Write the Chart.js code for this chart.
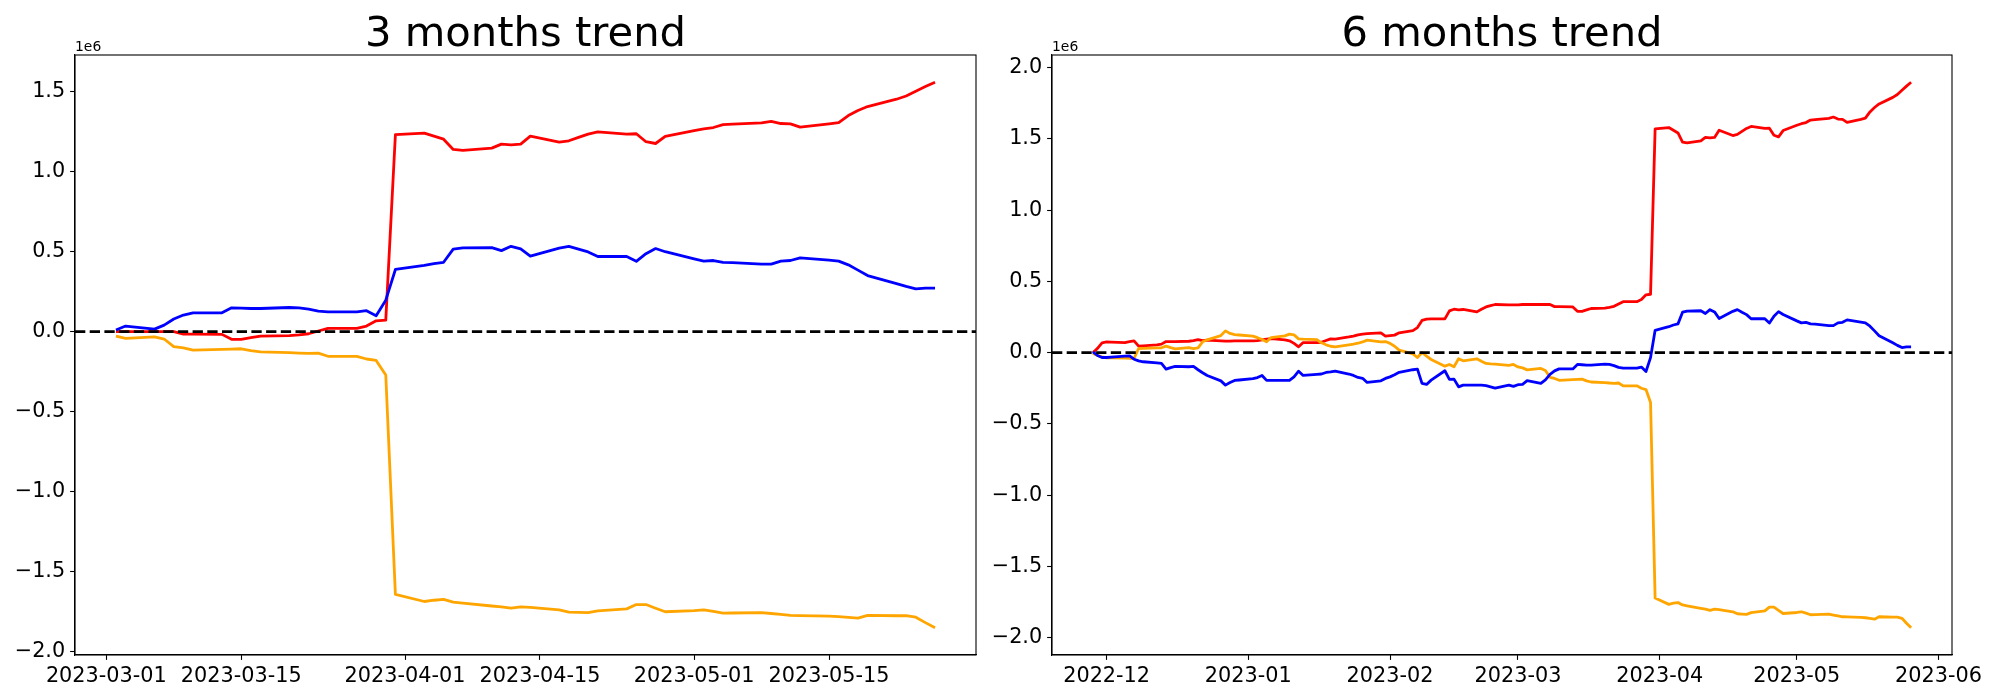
<!DOCTYPE html>
<html>
<head>
<meta charset="utf-8">
<script src="https://cdn.jsdelivr.net/npm/chart.js@4.4.0/dist/chart.umd.min.js"></script>
<style>
  body { margin: 0; background: #fff; }
  #left { position: absolute; left: 0; top: 0; width: 980px; height: 700px; }
  #right { position: absolute; left: 980px; top: 0; width: 1020px; height: 700px; }
</style>
</head>
<body>
<div id="left"><canvas id="chart3m"></canvas></div>
<div id="right"><canvas id="chart6m"></canvas></div>
<script>
// 3 months (business days)
const dates3m = [
  "2023-03-02", "2023-03-03", "2023-03-06", "2023-03-07", "2023-03-08", "2023-03-09", "2023-03-10",
  "2023-03-13", "2023-03-14", "2023-03-15", "2023-03-16", "2023-03-17", "2023-03-20", "2023-03-21",
  "2023-03-22", "2023-03-23", "2023-03-24", "2023-03-27", "2023-03-28", "2023-03-29", "2023-03-30",
  "2023-03-31", "2023-04-03", "2023-04-04", "2023-04-05", "2023-04-06", "2023-04-07", "2023-04-10",
  "2023-04-11", "2023-04-12", "2023-04-13", "2023-04-14", "2023-04-17", "2023-04-18", "2023-04-19",
  "2023-04-20", "2023-04-21", "2023-04-24", "2023-04-25", "2023-04-26", "2023-04-27", "2023-04-28",
  "2023-05-01", "2023-05-02", "2023-05-03", "2023-05-04", "2023-05-05", "2023-05-08", "2023-05-09",
  "2023-05-10", "2023-05-11", "2023-05-12", "2023-05-15", "2023-05-16", "2023-05-17", "2023-05-18",
  "2023-05-19", "2023-05-22", "2023-05-23", "2023-05-24", "2023-05-25", "2023-05-26",
];
const red3m = [
  0, 0, 0, 0, 0, -0.015, -0.015, -0.017, -0.048, -0.048, -0.038, -0.028, -0.025, -0.02, -0.013,
  0.004, 0.02, 0.02, 0.035, 0.068, 0.072, 1.233, 1.242, 1.223, 1.204, 1.14, 1.134, 1.148, 1.173,
  1.169, 1.173, 1.223, 1.186, 1.194, 1.215, 1.236, 1.25, 1.236, 1.238, 1.188, 1.177, 1.221, 1.258,
  1.269, 1.277, 1.295, 1.298, 1.306, 1.316, 1.302, 1.3, 1.279, 1.3, 1.308, 1.352, 1.383, 1.408,
  1.454, 1.474, 1.504, 1.533, 1.56,
];
const blue3m = [
  0.01, 0.035, 0.016, 0.041, 0.079, 0.104, 0.118, 0.118, 0.149, 0.147, 0.145, 0.145, 0.151, 0.149,
  0.141, 0.129, 0.124, 0.124, 0.131, 0.1, 0.197, 0.389, 0.414, 0.426, 0.434, 0.516, 0.524, 0.526,
  0.507, 0.534, 0.518, 0.472, 0.522, 0.534, 0.516, 0.499, 0.47, 0.47, 0.44, 0.488, 0.52, 0.5,
  0.455, 0.441, 0.445, 0.434, 0.432, 0.422, 0.422, 0.441, 0.445, 0.462, 0.447, 0.441, 0.418,
  0.385, 0.351, 0.301, 0.283, 0.268, 0.272, 0.272,
];
const orange3m = [
  -0.028, -0.042, -0.032, -0.046, -0.094, -0.102, -0.115, -0.111, -0.109, -0.107, -0.119, -0.127,
  -0.131, -0.134, -0.136, -0.134, -0.154, -0.154, -0.171, -0.18, -0.271, -1.644, -1.688, -1.68,
  -1.675, -1.692, -1.698, -1.716, -1.722, -1.73, -1.721, -1.725, -1.74, -1.754, -1.756, -1.758,
  -1.746, -1.734, -1.707, -1.707, -1.73, -1.752, -1.745, -1.74, -1.75, -1.761, -1.76, -1.757,
  -1.763, -1.769, -1.775, -1.776, -1.78, -1.782, -1.787, -1.792, -1.775, -1.777, -1.777, -1.786,
  -1.82, -1.852,
];
const xTicks3m = ["2023-03-01", "2023-03-15", "2023-04-01", "2023-04-15", "2023-05-01", "2023-05-15"];
const yTicks3m = [-2.0, -1.5, -1.0, -0.5, 0.0, 0.5, 1.0, 1.5];

// 6 months (business days)
const dates6m = [
  "2022-11-28", "2022-11-29", "2022-11-30", "2022-12-01", "2022-12-02", "2022-12-05", "2022-12-06",
  "2022-12-07", "2022-12-08", "2022-12-09", "2022-12-12", "2022-12-13", "2022-12-14", "2022-12-15",
  "2022-12-16", "2022-12-19", "2022-12-20", "2022-12-21", "2022-12-22", "2022-12-23", "2022-12-26",
  "2022-12-27", "2022-12-28", "2022-12-29", "2022-12-30", "2023-01-02", "2023-01-03", "2023-01-04",
  "2023-01-05", "2023-01-06", "2023-01-09", "2023-01-10", "2023-01-11", "2023-01-12", "2023-01-13",
  "2023-01-16", "2023-01-17", "2023-01-18", "2023-01-19", "2023-01-20", "2023-01-23", "2023-01-24",
  "2023-01-25", "2023-01-26", "2023-01-27", "2023-01-30", "2023-01-31", "2023-02-01", "2023-02-02",
  "2023-02-03", "2023-02-06", "2023-02-07", "2023-02-08", "2023-02-09", "2023-02-10", "2023-02-13",
  "2023-02-14", "2023-02-15", "2023-02-16", "2023-02-17", "2023-02-20", "2023-02-21", "2023-02-22",
  "2023-02-23", "2023-02-24", "2023-02-27", "2023-02-28", "2023-03-01",
  "2023-03-02", "2023-03-03", "2023-03-06", "2023-03-07", "2023-03-08", "2023-03-09", "2023-03-10",
  "2023-03-13", "2023-03-14", "2023-03-15", "2023-03-16", "2023-03-17", "2023-03-20", "2023-03-21",
  "2023-03-22", "2023-03-23", "2023-03-24", "2023-03-27", "2023-03-28", "2023-03-29", "2023-03-30",
  "2023-03-31", "2023-04-03", "2023-04-04", "2023-04-05", "2023-04-06", "2023-04-07", "2023-04-10",
  "2023-04-11", "2023-04-12", "2023-04-13", "2023-04-14", "2023-04-17", "2023-04-18", "2023-04-19",
  "2023-04-20", "2023-04-21", "2023-04-24", "2023-04-25", "2023-04-26", "2023-04-27", "2023-04-28",
  "2023-05-01", "2023-05-02", "2023-05-03", "2023-05-04", "2023-05-05", "2023-05-08", "2023-05-09",
  "2023-05-10", "2023-05-11", "2023-05-12", "2023-05-15", "2023-05-16", "2023-05-17", "2023-05-18",
  "2023-05-19", "2023-05-22", "2023-05-23", "2023-05-24", "2023-05-25", "2023-05-26",
];
const red6m = [
  0, 0.03, 0.069, 0.075, 0.074, 0.071, 0.077, 0.083, 0.046, 0.048, 0.055, 0.06, 0.078, 0.078,
  0.078, 0.08, 0.085, 0.092, 0.085, 0.088, 0.083, 0.081, 0.081, 0.082, 0.082, 0.083, 0.085, 0.09,
  0.095, 0.099, 0.09, 0.083, 0.065, 0.041, 0.071, 0.071, 0.073, 0.085, 0.097, 0.095, 0.11, 0.116,
  0.125, 0.13, 0.133, 0.139, 0.116, 0.12, 0.123, 0.139, 0.155, 0.176, 0.226, 0.235, 0.237, 0.237,
  0.293, 0.305, 0.3, 0.303, 0.286, 0.305, 0.321, 0.33, 0.338, 0.336, 0.335, 0.335,
  0.338, 0.338, 0.338, 0.338, 0.338, 0.323, 0.323, 0.321, 0.29, 0.29, 0.3, 0.31, 0.313, 0.318,
  0.325, 0.342, 0.358, 0.358, 0.373, 0.406, 0.41, 1.571, 1.58, 1.561, 1.542, 1.478, 1.472, 1.486,
  1.511, 1.507, 1.511, 1.561, 1.524, 1.532, 1.553, 1.574, 1.588, 1.574, 1.576, 1.526, 1.515, 1.559,
  1.596, 1.607, 1.615, 1.633, 1.636, 1.644, 1.654, 1.64, 1.638, 1.617, 1.638, 1.646, 1.69, 1.721,
  1.746, 1.792, 1.812, 1.842, 1.871, 1.898,
];
const blue6m = [
  0.005, -0.02, -0.034, -0.034, -0.032, -0.024, -0.022, -0.046, -0.058, -0.064, -0.072, -0.076,
  -0.116, -0.105, -0.097, -0.099, -0.097, -0.12, -0.141, -0.16, -0.198, -0.228, -0.21, -0.195,
  -0.192, -0.183, -0.175, -0.16, -0.195, -0.195, -0.195, -0.195, -0.17, -0.13, -0.16, -0.152,
  -0.15, -0.139, -0.135, -0.13, -0.15, -0.16, -0.174, -0.18, -0.209, -0.198, -0.181, -0.17, -0.155,
  -0.138, -0.12, -0.116, -0.216, -0.223, -0.193, -0.127, -0.188, -0.186, -0.24, -0.228, -0.228,
  -0.228, -0.232, -0.24, -0.249, -0.228, -0.237, -0.225,
  -0.222, -0.197, -0.216, -0.191, -0.153, -0.128, -0.114, -0.114, -0.083, -0.085, -0.087, -0.087,
  -0.081, -0.083, -0.091, -0.103, -0.108, -0.108, -0.101, -0.132, -0.035, 0.157, 0.182, 0.194,
  0.202, 0.284, 0.292, 0.294, 0.275, 0.302, 0.286, 0.24, 0.29, 0.302, 0.284, 0.267, 0.238, 0.238,
  0.208, 0.256, 0.288, 0.268, 0.223, 0.209, 0.213, 0.202, 0.2, 0.19, 0.19, 0.209, 0.213, 0.23,
  0.215, 0.209, 0.186, 0.153, 0.119, 0.069, 0.051, 0.036, 0.04, 0.04,
];
const orange6m = [
  -0.006, -0.02, -0.03, -0.036, -0.037, -0.039, -0.04, -0.041, 0.029, 0.03, 0.033, 0.034, 0.046,
  0.035, 0.027, 0.036, 0.029, 0.034, 0.076, 0.09, 0.12, 0.153, 0.135, 0.127, 0.124, 0.116, 0.105,
  0.092, 0.076, 0.106, 0.118, 0.13, 0.125, 0.097, 0.095, 0.092, 0.069, 0.055, 0.045, 0.041, 0.055,
  0.06, 0.066, 0.075, 0.088, 0.076, 0.078, 0.065, 0.045, 0.018, -0.008, -0.034, 0.001, -0.025,
  -0.048, -0.095, -0.083, -0.099, -0.043, -0.057, -0.043, -0.06, -0.076, -0.079, -0.081, -0.09,
  -0.083, -0.1,
  -0.107, -0.121, -0.111, -0.125, -0.173, -0.181, -0.194, -0.19, -0.188, -0.186, -0.198, -0.206,
  -0.21, -0.213, -0.215, -0.213, -0.233, -0.233, -0.25, -0.259, -0.35, -1.723, -1.767, -1.759,
  -1.754, -1.771, -1.777, -1.795, -1.801, -1.809, -1.8, -1.804, -1.819, -1.833, -1.835, -1.837,
  -1.825, -1.813, -1.786, -1.786, -1.809, -1.831, -1.824, -1.819, -1.829, -1.84, -1.839, -1.836,
  -1.842, -1.848, -1.854, -1.855, -1.859, -1.861, -1.866, -1.871, -1.854, -1.856, -1.856, -1.865,
  -1.899, -1.931,
];
const xTicks6m = ["2022-12-01", "2023-01-01", "2023-02-01", "2023-03-01", "2023-04-01", "2023-05-01", "2023-06-01"];
const xTickLabels6m = ["2022-12", "2023-01", "2023-02", "2023-03", "2023-04", "2023-05", "2023-06"];
const yTicks6m = [-2.0, -1.5, -1.0, -0.5, 0.0, 0.5, 1.0, 1.5, 2.0];

const FONT = "DejaVu Sans";
const DAY = 86400000;

function toDay(s) {
  return Date.parse(s) / DAY;
}

function points(dates, values) {
  return dates.map((d, i) => ({ x: toDay(d), y: values[i] }));
}

// matplotlib style 5% margins
function limits(values) {
  const lo = Math.min(...values);
  const hi = Math.max(...values);
  const m = (hi - lo) * 0.05;
  return [lo - m, hi + m];
}

function makeChart(id, title, dates, red, orange, blue, xTicks, xLabels, yTicks, yWidth, padRight) {
  const [xMin, xMax] = limits(dates.map(toDay));
  const [yMin, yMax] = limits(red.concat(orange, blue));
  const tickDays = xTicks.map(toDay);

  const frame = {
    id: "frame",
    afterDatasetsDraw(chart) {
      const a = chart.chartArea;
      const ctx = chart.ctx;
      ctx.save();
      ctx.strokeStyle = "#000";
      ctx.lineWidth = 1.1;
      ctx.strokeRect(a.left, a.top, a.right - a.left, a.bottom - a.top);
      ctx.fillStyle = "#000";
      ctx.textAlign = "center";
      ctx.textBaseline = "alphabetic";
      ctx.font = "41.7px '" + FONT + "'";
      ctx.fillText(title, (a.left + a.right) / 2, 46);
      ctx.textAlign = "left";
      ctx.font = "13.9px '" + FONT + "'";
      ctx.fillText("1e6", a.left, 51);
      ctx.restore();
    },
  };

  const line = (data, color, order) => ({
    data: data,
    borderColor: color,
    borderWidth: 2.8,
    pointRadius: 0,
    tension: 0,
    borderJoinStyle: "round",
    order: order,
  });

  const zero = line([{ x: xMin, y: 0 }, { x: xMax, y: 0 }], "#000", 0);
  zero.borderDash = [10.3, 4.4];

  return new Chart(id, {
    type: "line",
    data: {
      datasets: [
        zero,
        line(points(dates, blue), "#0000ff", 1),
        line(points(dates, orange), "#ffa500", 2),
        line(points(dates, red), "#ff0000", 3),
      ],
    },
    options: {
      responsive: true,
      maintainAspectRatio: false,
      animation: false,
      devicePixelRatio: 1,
      layout: { padding: { top: 55, right: padRight, left: 0, bottom: 0 } },
      plugins: {
        legend: { display: false },
        tooltip: { enabled: false },
        title: { display: false },
      },
      scales: {
        x: {
          type: "linear",
          min: xMin,
          max: xMax,
          afterBuildTicks: (s) => {
            s.ticks = tickDays.map((v) => ({ value: v }));
          },
          afterFit: (s) => {
            s.height = 45;
          },
          ticks: {
            callback: (v) => xLabels[tickDays.indexOf(v)],
            maxRotation: 0,
            autoSkip: false,
            padding: 4,
            color: "#000",
            font: { family: FONT, size: 20.8 },
          },
          grid: { drawOnChartArea: false, tickLength: 4.9, tickWidth: 1.1, tickColor: "#000" },
          border: { display: true, color: "#000", width: 1.1 },
        },
        y: {
          min: yMin,
          max: yMax,
          afterBuildTicks: (s) => {
            s.ticks = yTicks.map((v) => ({ value: v }));
          },
          afterFit: (s) => {
            s.width = yWidth;
          },
          ticks: {
            callback: (v) => v.toFixed(1).replace("-", "\u2212"),
            padding: 4.9,
            color: "#000",
            font: { family: FONT, size: 20.8 },
          },
          grid: { drawOnChartArea: false, tickLength: 4.9, tickWidth: 1.1, tickColor: "#000" },
          border: { display: true, color: "#000", width: 1.1 },
        },
      },
    },
    plugins: [frame],
  });
}

makeChart("chart3m", "3 months trend", dates3m, red3m, orange3m, blue3m,
  xTicks3m, xTicks3m, yTicks3m, 75, 4);
makeChart("chart6m", "6 months trend", dates6m, red6m, orange6m, blue6m,
  xTicks6m, xTickLabels6m, yTicks6m, 72, 48);
</script>
</body>
</html>
